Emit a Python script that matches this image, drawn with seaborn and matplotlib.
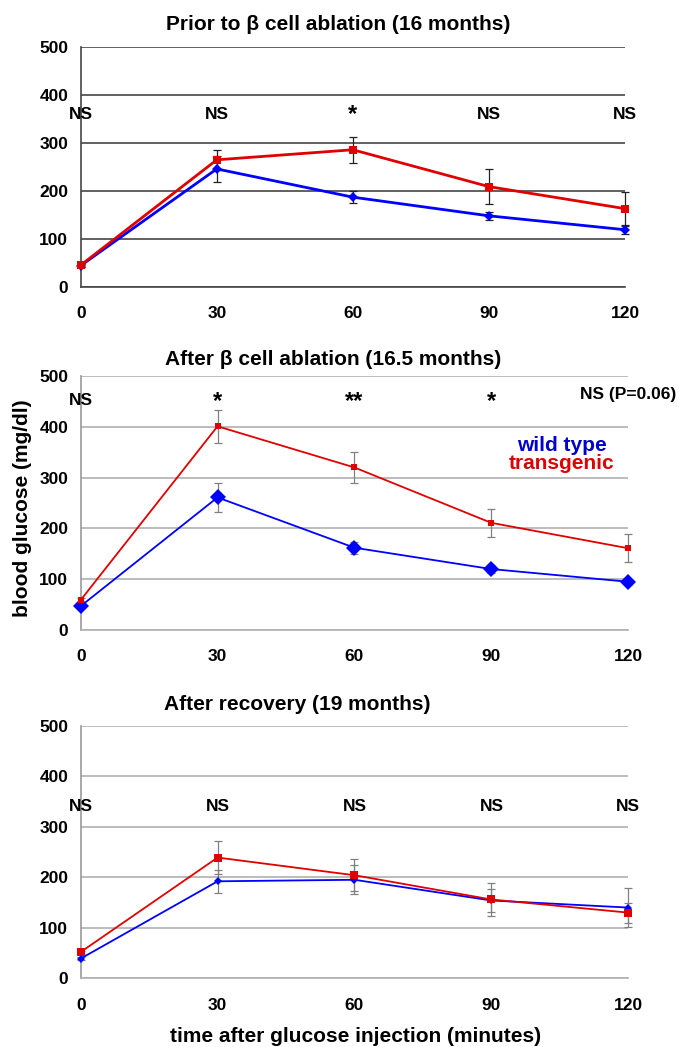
import pandas as pd
import seaborn as sns
import matplotlib.pyplot as plt

sns.set_style("white")
plt.rcParams['font.family'] = ['Liberation Sans', 'DejaVu Sans']
plt.rcParams['font.weight'] = 'bold'
plt.rcParams['text.color'] = 'black'

times = [0, 30, 60, 90, 120]

# prior to ablation (16 months)
p1_wt = [44, 246, 187, 148, 119]
p1_wt_err = [3, 28, 13, 9, 8]
p1_tg = [45, 265, 286, 209, 163]
p1_tg_err = [3, 21, 27, 37, 35]
p1_sig = ['NS', 'NS', '*', 'NS', 'NS']

# after ablation (16.5 months)
p2_wt = [47, 261, 162, 120, 95]
p2_wt_err = [4, 29, 12, 8, 6]
p2_tg = [59, 401, 320, 211, 161]
p2_tg_err = [4, 33, 31, 28, 27]
p2_sig = ['NS', '*', '**', '*', 'NS (P=0.06)']

# after recovery (19 months)
p3_wt = [39, 192, 195, 154, 140]
p3_wt_err = [3, 23, 29, 22, 38]
p3_tg = [52, 239, 204, 156, 130]
p3_tg_err = [3, 33, 32, 32, 20]
p3_sig = ['NS', 'NS', 'NS', 'NS', 'NS']

titles = ['Prior to \u03b2 cell ablation (16 months)',
          'After \u03b2 cell ablation (16.5 months)',
          'After recovery (19 months)']

BLUE = '#0000ff'
RED = '#e00000'

W, H = 679, 1047
fig = plt.figure(figsize=(W / 100, H / 100), dpi=100)


def px_axes(left, right, top, bottom):
    return fig.add_axes([left / W, 1 - bottom / H, (right - left) / W, (bottom - top) / H])


panels = [
    dict(ax=px_axes(80.7, 625, 47.3, 286.7), wt=p1_wt, wte=p1_wt_err, tg=p1_tg, tge=p1_tg_err,
         sig=p1_sig, ns_y=350, star_y=347, grid='#454545', spine='#454545', ecol='#222222',
         lw=2.0, wt_ms=5, tg_ms=6, title_xy=(338, 24)),
    dict(ax=px_axes(80.7, 628, 376, 630), wt=p2_wt, wte=p2_wt_err, tg=p2_tg, tge=p2_tg_err,
         sig=p2_sig, ns_y=443, star_y=437, grid='#b0b0b0', spine='#999999', ecol='#808080',
         lw=1.3, wt_ms=8, tg_ms=5, title_xy=(333, 359)),
    dict(ax=px_axes(80.7, 628.3, 725.7, 978.3), wt=p3_wt, wte=p3_wt_err, tg=p3_tg, tge=p3_tg_err,
         sig=p3_sig, ns_y=331, star_y=325, grid='#b0b0b0', spine='#999999', ecol='#808080',
         lw=1.3, wt_ms=4.5, tg_ms=5.5, title_xy=(297, 704)),
]

for p, title in zip(panels, titles):
    ax = p['ax']
    ax.errorbar(times, p['tg'], yerr=p['tge'], fmt='none', ecolor=p['ecol'], elinewidth=0.9,
                capsize=3, capthick=0.9, clip_on=False, zorder=3)
    ax.errorbar(times, p['wt'], yerr=p['wte'], fmt='none', ecolor=p['ecol'], elinewidth=0.9,
                capsize=3, capthick=0.9, clip_on=False, zorder=3)
    sns.lineplot(x=times, y=p['wt'], ax=ax, color=BLUE, lw=p['lw'], marker='D',
                 markersize=p['wt_ms'], markeredgewidth=0, clip_on=False, zorder=4)
    sns.lineplot(x=times, y=p['tg'], ax=ax, color=RED, lw=p['lw'], marker='s',
                 markersize=p['tg_ms'], markeredgewidth=0, clip_on=False, zorder=5)

    ax.set_xlim(0, 120)
    ax.set_ylim(0, 500)
    ax.set_xticks(times)
    ax.set_yticks(range(0, 501, 100))
    ax.yaxis.grid(True, color=p['grid'], lw=1.2)
    ax.set_axisbelow(True)
    for s in ['top', 'right']:
        ax.spines[s].set_visible(False)
    ax.spines['left'].set_color(p['spine'])
    ax.spines['bottom'].set_color(p['grid'])
    ax.spines['left'].set_linewidth(1.2)
    ax.spines['bottom'].set_linewidth(1.2)
    ax.tick_params(axis='x', direction='out', length=4, width=1.2, color=p['grid'], pad=10,
                   labelsize=12.5, labelcolor='black')
    ax.tick_params(axis='y', direction='out', length=4, width=1.2, color=p['grid'], pad=5,
                   labelsize=12.5, labelcolor='black')
    ax.set_xlabel('')
    ax.set_ylabel('')

    for t, s in zip(times, p['sig']):
        if s.startswith('*'):
            ax.text(t, p['star_y'], s, ha='center', va='baseline', fontsize=17,
                    fontweight='bold', clip_on=False)
        else:
            y = p['ns_y'] + (12 if '(' in s else 0)
            ax.text(t, y, s, ha='center', va='baseline', fontsize=12.5, fontweight='bold',
                    clip_on=False)

    tx, ty = p['title_xy']
    fig.text(tx / W, 1 - ty / H, title, ha='center', va='center', fontsize=15,
             fontweight='bold')

# legend-like labels in the middle panel
ax2 = panels[1]['ax']
ax2.text(105.5, 364, 'wild type', color='#0000cc', ha='center', va='center', fontsize=15,
         fontweight='bold')
ax2.text(105.5, 327, 'transgenic', color='#dd0000', ha='center', va='center', fontsize=15,
         fontweight='bold')

fig.text(23 / W, 1 - 508 / H, 'blood glucose (mg/dl)', rotation=90, ha='center', va='center',
         fontsize=15, fontweight='bold')
fig.text(356 / W, 1 - 1036 / H, 'time after glucose injection (minutes)', ha='center',
         va='center', fontsize=15, fontweight='bold')

fig.savefig('out.png', dpi=100)
